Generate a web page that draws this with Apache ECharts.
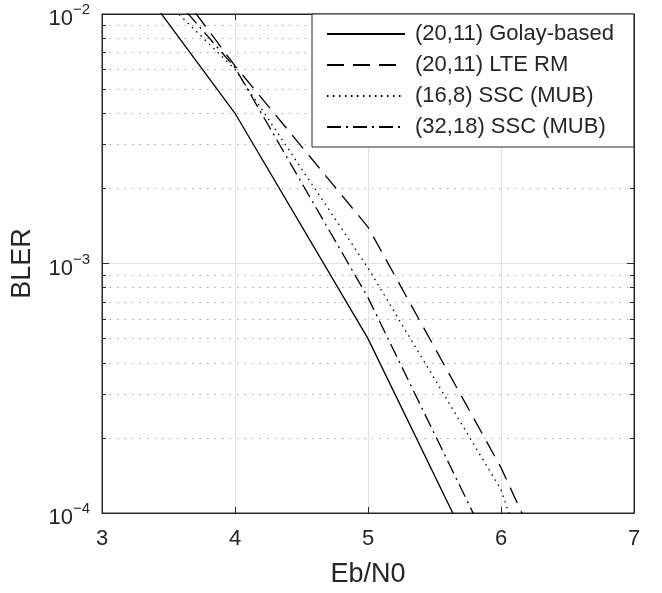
<!DOCTYPE html>
<html>
<head>
<meta charset="utf-8">
<script src="https://cdn.jsdelivr.net/npm/echarts@6/dist/echarts.min.js"></script>
<style>
html,body{margin:0;padding:0;background:#fff;}
#c{width:662px;height:593px;}
</style>
</head>
<body>
<div id="c"></div>
<script>
// ---- data ----
const ebn0 = [3, 4, 5, 6, 7];
const golay = [2.1e-2, 4.0e-3, 5.0e-4, 4.0e-5, null];
const lteRM = [3.2e-2, 6.2e-3, 1.4e-3, 1.52e-4, 1.05e-5];
const ssc16 = [2.0e-2, 6.0e-3, 9.6e-4, 1.24e-4, 3.3e-6];
const ssc32 = [2.5e-2, 6.1e-3, 7.3e-4, 5.9e-5, null];
const seriesNames = ['(20,11) Golay-based', '(20,11) LTE RM', '(16,8) SSC (MUB)', '(32,18) SSC (MUB)'];
const xTicks = [3, 4, 5, 6, 7];
const yTicks = [1e-4, 1e-3, 1e-2];
const yMinor = [2e-4, 3e-4, 4e-4, 5e-4, 6e-4, 7e-4, 8e-4, 9e-4,
                2e-3, 3e-3, 4e-3, 5e-3, 6e-3, 7e-3, 8e-3, 9e-3];

const FONT = 'Liberation Sans';
const TXT = '#262626';

function pairs(ys) { return ebn0.map((x, i) => [x, ys[i]]); }

const minorGrid = yMinor.map(v => [{ coord: [xTicks[0], v] }, { coord: [xTicks[xTicks.length - 1], v] }]);
const minorTicks = [];
yMinor.forEach(v => {
  minorTicks.push([{ coord: [xTicks[0], v] }, { coord: [xTicks[0] + 0.03, v] }]);
  minorTicks.push([{ coord: [xTicks[xTicks.length - 1] - 0.03, v] }, { coord: [xTicks[xTicks.length - 1], v] }]);
});

const lineW = 1.3;
const styles = [
  { type: 'solid' },
  { type: [17, 9] },
  { type: [1.5, 4.5] },
  { type: [14, 5, 2, 5] }
];
const datasets = [golay, lteRM, ssc16, ssc32];

const series = datasets.map((d, i) => ({
  name: seriesNames[i],
  type: 'line',
  data: pairs(d),
  symbol: 'none',
  showSymbol: false,
  clip: true,
  z: 5,
  lineStyle: { color: '#000', width: lineW, type: styles[i].type },
  itemStyle: { color: '#000', opacity: 0 }
}));

series[0].markLine = {
  silent: true, symbol: 'none', animation: false,
  label: { show: false },
  lineStyle: { color: '#a8a8a8', width: 1, type: [1.5, 6] },
  emphasis: { disabled: true },
  data: minorGrid
};
series[1].markLine = {
  silent: true, symbol: 'none', animation: false,
  label: { show: false },
  lineStyle: { color: TXT, width: 1, type: 'solid' },
  emphasis: { disabled: true },
  data: minorTicks
};

const chart = echarts.init(document.getElementById('c'), null, { renderer: 'canvas' });
chart.setOption({
  animation: false,
  backgroundColor: '#fff',
  textStyle: { fontFamily: FONT, color: TXT },
  grid: { left: 102, top: 14, width: 532, height: 499, show: true, borderColor: TXT, borderWidth: 1, backgroundColor: 'transparent' },
  legend: {
    data: seriesNames,
    orient: 'vertical',
    left: 312, top: 14,
    padding: [9, 20, 9, 14],
    itemWidth: 78, itemHeight: 14, itemGap: 9,
    borderColor: TXT, borderWidth: 1,
    backgroundColor: '#fff',
    itemStyle: { opacity: 0 },
    textStyle: { fontFamily: FONT, fontSize: 22, color: TXT, padding: [0, 0, 0, 5] },
    z: 10
  },
  xAxis: [{
    type: 'value', min: xTicks[0], max: xTicks[xTicks.length - 1], interval: 1,
    name: 'Eb/N0', nameLocation: 'middle', nameGap: 48,
    nameTextStyle: { fontFamily: FONT, fontSize: 27, color: TXT },
    axisLine: { show: true, lineStyle: { color: TXT, width: 1 } },
    axisTick: { show: true, inside: true, length: 6, lineStyle: { color: TXT } },
    axisLabel: { fontFamily: FONT, fontSize: 22, color: TXT, margin: 15 },
    splitLine: { show: true, lineStyle: { color: '#e2e2e2', width: 1 } }
  }, {
    type: 'value', position: 'top', min: xTicks[0], max: xTicks[xTicks.length - 1], interval: 1,
    axisLine: { show: true, lineStyle: { color: TXT, width: 1 } },
    axisTick: { show: true, inside: true, length: 6, lineStyle: { color: TXT } },
    axisLabel: { show: false }, splitLine: { show: false }
  }],
  yAxis: [{
    type: 'log', logBase: 10, min: yTicks[0], max: yTicks[yTicks.length - 1], interval: 1,
    name: 'BLER', nameLocation: 'middle', nameGap: 66, nameRotate: 90,
    nameTextStyle: { fontFamily: FONT, fontSize: 27, color: TXT },
    axisLine: { show: true, lineStyle: { color: TXT, width: 1 } },
    axisTick: { show: true, inside: true, length: 7, lineStyle: { color: TXT } },
    axisLabel: {
      margin: 12,
      formatter: v => '{b|10}{s|\u2212' + Math.abs(Math.round(Math.log10(v))) + '}',
      rich: {
        b: { fontFamily: FONT, fontSize: 22, color: TXT, padding: [10, 0, 0, 0] },
        s: { fontFamily: FONT, fontSize: 15, color: TXT, padding: [0, 0, 8, 0] }
      }
    },
    splitLine: { show: true, lineStyle: { color: '#e2e2e2', width: 1 } }
  }, {
    type: 'log', logBase: 10, position: 'right', min: yTicks[0], max: yTicks[yTicks.length - 1], interval: 1,
    axisLine: { show: true, lineStyle: { color: TXT, width: 1 } },
    axisTick: { show: true, inside: true, length: 7, lineStyle: { color: TXT } },
    axisLabel: { show: false }, splitLine: { show: false }
  }],
  series: series
});
</script>
</body>
</html>
